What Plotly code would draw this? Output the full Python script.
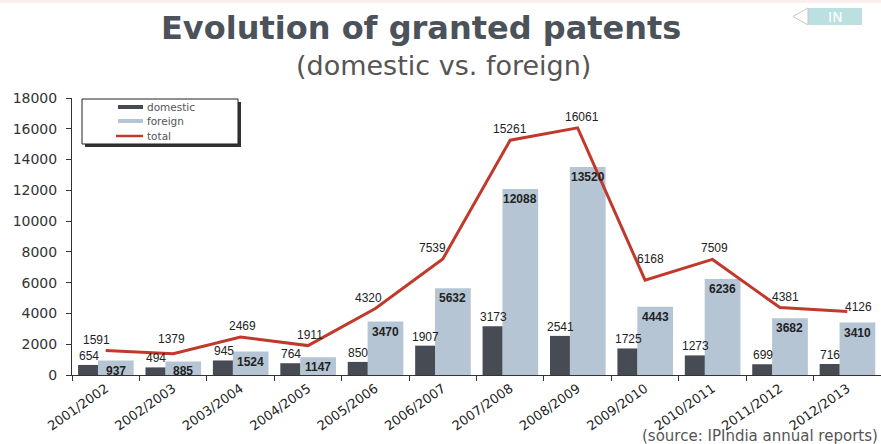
import plotly.graph_objects as go

# -------------------------------------------------
# data (IPIndia annual reports)
# -------------------------------------------------
years = ["2001/2002", "2002/2003", "2003/2004", "2004/2005", "2005/2006", "2006/2007",
         "2007/2008", "2008/2009", "2009/2010", "2010/2011", "2011/2012", "2012/2013"]
domestic = [654, 494, 945, 764, 850, 1907, 3173, 2541, 1725, 1273, 699, 716]
foreign = [937, 885, 1524, 1147, 3470, 5632, 12088, 13520, 4443, 6236, 3682, 3410]
total = [1591, 1379, 2469, 1911, 4320, 7539, 15261, 16061, 6168, 7509, 4381, 4126]
y_ticks = list(range(0, 18001, 2000))

DARK = "#474c54"
LIGHT = "#b5c5d3"
RED = "#c0392b"
ARIAL = "Liberation Sans, Arial, sans-serif"
WIDE = "DejaVu Sans, Verdana, sans-serif"

W, H = 881, 444
L, T, B = 72, 98, 69
PW, PH = W - L, H - T - B


def px(x, y):
    # pixel -> paper coords
    return (x - L) / PW, (H - B - y) / PH


fig = go.Figure()
fig.add_trace(go.Bar(x=years, y=domestic, name="domestic", marker_color=DARK,
                     marker_line_width=0, width=0.30, offset=-0.41))
fig.add_trace(go.Bar(x=years, y=foreign, name="foreign", marker_color=LIGHT,
                     marker_line_width=0, width=0.53, offset=-0.115))
fig.add_trace(go.Scatter(x=years, y=total, name="total", mode="lines",
                         line=dict(color=RED, width=3)))

ann = []


def note(x, y, text, size, color, family, xanchor="center", **kw):
    a, b = px(x, y)
    ann.append(dict(x=a, y=b, xref="paper", yref="paper", showarrow=False, text=text,
                    xanchor=xanchor, yanchor="middle",
                    font=dict(size=size, color=color, family=family), **kw))


# data labels
tot_shift = [(-9, 0), (-2, 4), (2, 0), (2, 0), (-7, 0), (-10, 0),
             (0, 0), (4, 0), (5, 10), (2, 0), (6, 0), (11, -6)]
for i, yr in enumerate(years):
    ann.append(dict(x=yr, y=domestic[i], xref="x", yref="y", text=str(domestic[i]),
                    showarrow=False, xshift=-17, xanchor="center", yanchor="bottom",
                    yshift=0, font=dict(size=12, color="#222", family=ARIAL)))
    ann.append(dict(x=yr, y=foreign[i], xref="x", yref="y", text="<b>%d</b>" % foreign[i],
                    showarrow=False, xshift=10, xanchor="center", yanchor="top",
                    yshift=-1, font=dict(size=12, color="#222", family=ARIAL)))
    dx, dy = tot_shift[i]
    ann.append(dict(x=yr, y=total[i], xref="x", yref="y", text=str(total[i]),
                    showarrow=False, xshift=dx, xanchor="center", yanchor="bottom",
                    yshift=2 + dy, font=dict(size=12, color="#222", family=ARIAL)))

# titles, source, tag
note(421, 28, "<b>Evolution of granted patents</b>", 32, "#4b5259", WIDE)
note(443, 66, "(domestic vs. foreign)", 27, "#555", WIDE)
note(880, 436, "(source: IPIndia annual reports)", 15, "#555", WIDE, xanchor="right")
note(835, 16.5, "IN", 14, "white", WIDE)

shapes = []


def rect(x1, y1, x2, y2, **kw):
    a, b = px(x1, y1)
    c, d = px(x2, y2)
    shapes.append(dict(type="rect", xref="paper", yref="paper", x0=a, y0=b, x1=c, y1=d,
                       layer="above", **kw))


# faint strip at top + IN tag
rect(0, 0, W, 3, fillcolor="#fbeeee", line_width=0)
rect(808, 8, 862, 25, fillcolor="#bcdfe1", line_width=0)
p = [px(808, 8), px(793, 16.5), px(808, 25)]
shapes.append(dict(type="path", xref="paper", yref="paper", layer="above",
                   path="M %f %f L %f %f L %f %f Z" % (p[0] + p[1] + p[2]),
                   fillcolor="white", line=dict(color="#c8c8c8", width=1)))

# legend (drawn by hand to match the box)
rect(85, 102, 241, 147, fillcolor="#333", line_width=0)
rect(82, 99, 238, 144, fillcolor="white", line=dict(color="#222", width=1))
rect(118, 105, 143, 109, fillcolor=DARK, line_width=0)
rect(118, 119, 143, 123, fillcolor=LIGHT, line_width=0)
a, b = px(116, 136)
c, d = px(143, 136)
shapes.append(dict(type="line", xref="paper", yref="paper", x0=a, y0=b, x1=c, y1=d,
                   layer="above", line=dict(color=RED, width=2.5)))
for name, yy in zip(["domestic", "foreign", "total"], [107, 121, 135.5]):
    note(145, yy, name, 10.5, "#555", WIDE, xanchor="left")

fig.update_layout(
    width=W, height=H,
    margin=dict(l=L, r=0, t=T, b=B),
    barmode="overlay",
    showlegend=False,
    paper_bgcolor="white", plot_bgcolor="white",
    font=dict(family=ARIAL),
    xaxis=dict(type="category", showline=True, linecolor="#333", linewidth=1,
               ticks="outside", tickson="boundaries", ticklen=5, tickcolor="#333",
               tickangle=-35, tickfont=dict(size=13, color="#222", family=WIDE),
               showgrid=False, automargin=False),
    yaxis=dict(range=[0, 18000], tickvals=y_ticks, tickformat="d", showline=True,
               linecolor="#333", linewidth=1, ticks="outside", ticklen=5, tickcolor="#333",
               tickfont=dict(size=14, color="#333", family=WIDE), showgrid=False,
               zeroline=False, ticklabelstandoff=6, automargin=False),
    annotations=ann,
    shapes=shapes,
)

# page body has an 8px default margin; drop it so the chart fills the window
fig.write_html("out.html", config={"displayModeBar": False},
               post_script="document.body.style.margin='0';")
